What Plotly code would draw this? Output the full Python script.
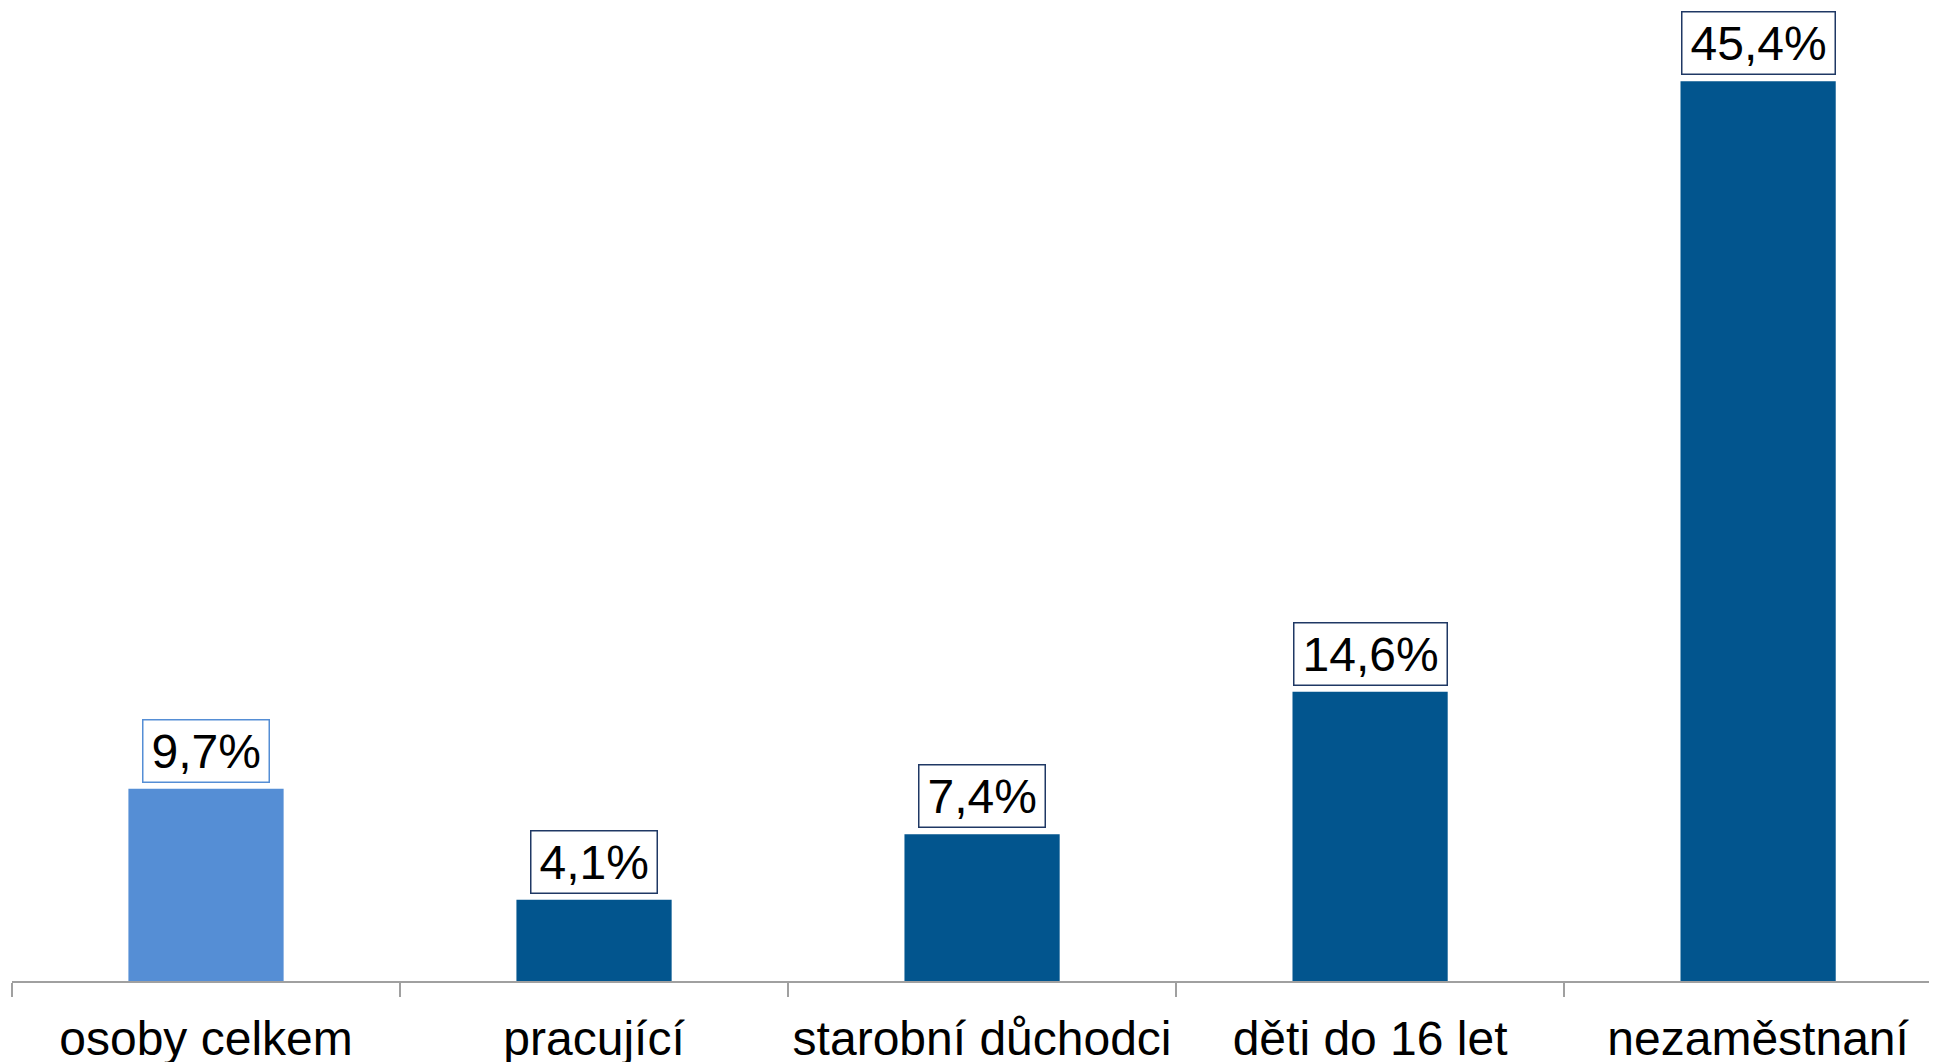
# plot.py
# Bar chart: share of persons by group (Czech labels)

import plotly.graph_objects as go

# ─────────────────────────────────────────────
# DATA
# ─────────────────────────────────────────────

categories = ["osoby celkem", "pracující", "starobní důchodci", "děti do 16 let", "nezaměstnaní"]
values = [9.7, 4.1, 7.4, 14.6, 45.4]
value_labels = ["9,7%", "4,1%", "7,4%", "14,6%", "45,4%"]

# ─────────────────────────────────────────────
# COLORS / FONT
# ─────────────────────────────────────────────

LIGHT_BLUE = "#558ED5"
DARK_BLUE = "#02558E"
NAVY_BORDER = "#1F3864"
AXIS_GRAY = "#A0A0A0"
FONT = "Liberation Sans, Arial, sans-serif"
FONT_SIZE = 48

bar_colors = [LIGHT_BLUE] + [DARK_BLUE] * (len(categories) - 1)
box_colors = [LIGHT_BLUE] + [NAVY_BORDER] * (len(categories) - 1)

# rough Arial widths (em) so the label boxes get a bit of side padding
CHAR_W = {",": 0.278, "%": 0.889}


def label_width(txt):
    return sum(CHAR_W.get(ch, 0.556) for ch in txt) * FONT_SIZE + 8


fig = go.Figure()

fig.add_trace(go.Bar(
    x=categories,
    y=values,
    width=0.4,
    marker=dict(color=bar_colors, line=dict(width=0)),
    hoverinfo="skip",
))

# Boxed value labels above every bar
for cat, val, lab, col in zip(categories, values, value_labels, box_colors):
    fig.add_annotation(
        x=cat, y=val,
        text=lab,
        showarrow=False,
        yanchor="bottom",
        yshift=6,
        width=label_width(lab),
        font=dict(family=FONT, size=FONT_SIZE, color="black"),
        bgcolor="white",
        bordercolor=col,
        borderwidth=1.5,
        borderpad=4,
    )

# page body has an 8px margin, so the figure is a bit smaller than the window
fig.update_layout(
    width=1929,
    height=1054,
    paper_bgcolor="white",
    plot_bgcolor="white",
    showlegend=False,
    margin=dict(l=4, r=0, t=0, b=81),
    font=dict(family=FONT, size=FONT_SIZE, color="black"),
    xaxis=dict(
        type="category",
        range=[-0.5, 4.461],
        showline=True,
        linecolor=AXIS_GRAY,
        linewidth=1.5,
        ticks="outside",
        tickson="boundaries",
        ticklen=14,
        tickcolor=AXIS_GRAY,
        tickwidth=1.5,
        tickangle=0,
        ticklabelstandoff=15,
        showgrid=False,
        automargin=False,
        tickfont=dict(family=FONT, size=FONT_SIZE, color="black"),
    ),
    yaxis=dict(
        range=[0, 49.1],
        visible=False,
        showgrid=False,
        zeroline=False,
    ),
)

fig.write_html("out.html")
